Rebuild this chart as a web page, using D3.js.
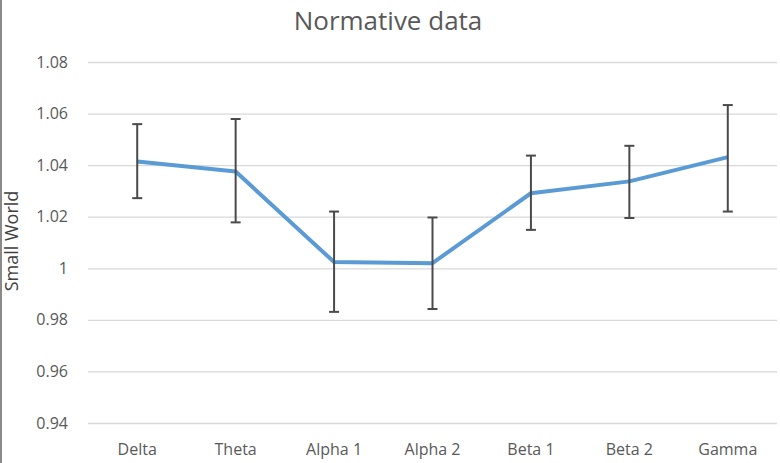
<!DOCTYPE html>
<html>
<head>
<meta charset="utf-8">
<script src="https://cdn.jsdelivr.net/npm/d3@7"></script>
<style>
  body { margin: 0; background: #fff; }
  svg { display: block; }
</style>
</head>
<body>
<div id="chart"></div>
<script>
// data
var bands = ["Delta", "Theta", "Alpha 1", "Alpha 2", "Beta 1", "Beta 2", "Gamma"];
var means = [1.0414, 1.0375, 1.0024, 1.0020, 1.0291, 1.0337, 1.0431];
var upper = [1.0559, 1.0579, 1.0220, 1.0197, 1.0437, 1.0475, 1.0633];
var lower = [1.0272, 1.0178, 0.9831, 0.9842, 1.0149, 1.0195, 1.0220];
var yTicks = [0.94, 0.96, 0.98, 1, 1.02, 1.04, 1.06, 1.08];

var W = 780, H = 463;
var margin = { top: 62, right: 3, bottom: 40, left: 88 },
  width = W - margin.left - margin.right,
  height = H - margin.top - margin.bottom;

var svg = d3.select("#chart")
  .append("svg")
  .attr("width", W)
  .attr("height", H)
  .style("font-family", "'Open Sans', sans-serif");

// frame line on the left edge
svg.append("line")
  .attr("x1", 1).attr("x2", 1)
  .attr("y1", 0).attr("y2", H)
  .style("stroke", "#8a8a8a")
  .style("stroke-width", 2);

var g = svg.append("g")
  .attr("transform", "translate(" + margin.left + "," + margin.top + ")");

var x = d3.scaleBand().domain(bands).range([0, width]);
var y = d3.scaleLinear().domain([0.94, 1.08]).range([height, 0]);

// gridlines
g.append("g")
  .call(d3.axisLeft(y).tickValues(yTicks).tickSize(-width).tickFormat(""))
  .call(function (ax) {
    ax.select(".domain").remove();
    ax.selectAll(".tick line").style("stroke", "#d9d9d9").style("stroke-width", 1.3);
  });

// y labels
g.append("g")
  .call(d3.axisLeft(y).tickValues(yTicks).tickSize(0).tickPadding(20)
    .tickFormat(function (d) { return d === 1 ? "1" : d3.format(".2f")(d); }))
  .call(function (ax) {
    ax.select(".domain").remove();
    ax.selectAll("text").style("fill", "#595959").style("font-size", "16px")
      .style("font-family", "'Open Sans', sans-serif");
  });

// x labels
g.append("g")
  .attr("transform", "translate(0," + height + ")")
  .call(d3.axisBottom(x).tickSize(0).tickPadding(21))
  .call(function (ax) {
    ax.select(".domain").remove();
    ax.selectAll("text").style("fill", "#595959").style("font-size", "16px")
      .style("font-family", "'Open Sans', sans-serif");
  });

var cx = function (d) { return x(d) + x.bandwidth() / 2; };

// line
g.append("path")
  .datum(bands)
  .attr("fill", "none")
  .attr("stroke", "#5b9bd5")
  .attr("stroke-width", 4)
  .attr("stroke-linejoin", "round")
  .attr("d", d3.line()
    .x(function (d) { return cx(d); })
    .y(function (d, i) { return y(means[i]); }));

// error bars
var eb = g.selectAll(".err").data(bands).enter().append("g").attr("class", "err")
  .style("stroke", "#4a4a4a").style("stroke-width", 2);
eb.append("line")
  .attr("x1", cx).attr("x2", cx)
  .attr("y1", function (d, i) { return y(upper[i]); })
  .attr("y2", function (d, i) { return y(lower[i]); });
eb.append("line")
  .attr("x1", function (d) { return cx(d) - 5; })
  .attr("x2", function (d) { return cx(d) + 5; })
  .attr("y1", function (d, i) { return y(upper[i]); })
  .attr("y2", function (d, i) { return y(upper[i]); });
eb.append("line")
  .attr("x1", function (d) { return cx(d) - 5; })
  .attr("x2", function (d) { return cx(d) + 5; })
  .attr("y1", function (d, i) { return y(lower[i]); })
  .attr("y2", function (d, i) { return y(lower[i]); });

// y title
svg.append("text")
  .attr("transform", "translate(18,241) rotate(-90)")
  .attr("text-anchor", "middle")
  .style("font-size", "18px")
  .style("fill", "#404040")
  .text("Small World");

// title
svg.append("text")
  .attr("x", 388)
  .attr("y", 30)
  .attr("text-anchor", "middle")
  .style("font-size", "26px")
  .style("fill", "#595959")
  .text("Normative data");
</script>
</body>
</html>
